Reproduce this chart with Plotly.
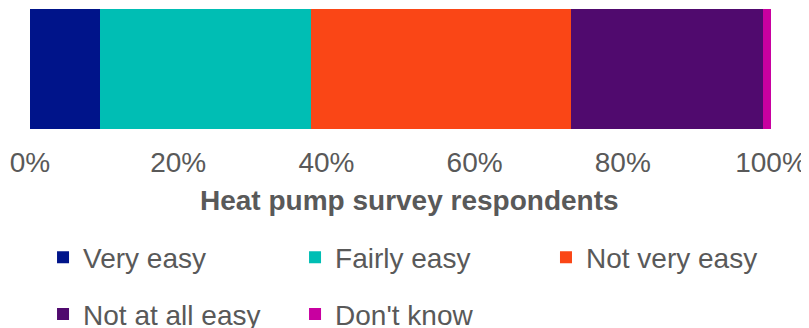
import plotly.graph_objects as go

categories = ["Heat pump survey respondents"]
answers = ["Very easy", "Fairly easy", "Not very easy", "Not at all easy", "Don't know"]
shares = [9.4, 28.5, 35.1, 25.9, 1.1]
colours = ["#00148A", "#00BEB4", "#FA4616", "#500A6E", "#C800A0"]
x_ticks = [0, 20, 40, 60, 80, 100]
x_tick_labels = ["0%", "20%", "40%", "60%", "80%", "100%"]

# legend grid: 3 columns, 2 rows (container coords)
leg_x = [0.0433, 0.3548, 0.665, 0.0433, 0.3548]
leg_y = [0.2393, 0.2393, 0.2393, 0.066, 0.066]

font_grey = "#595959"

fig = go.Figure()
legends = {}
for i, (name, val, col) in enumerate(zip(answers, shares, colours)):
    lid = "legend" if i == 0 else "legend%d" % (i + 1)
    fig.add_trace(go.Bar(
        x=[val], y=categories, name=name, orientation="h",
        marker=dict(color=col, line=dict(width=0)),
        legend=lid, hoverinfo="name+x"
    ))
    legends[lid] = dict(
        orientation="h", xref="container", yref="container",
        xanchor="left", yanchor="middle", x=leg_x[i], y=leg_y[i],
        font=dict(size=28, color=font_grey),
        bgcolor="rgba(0,0,0,0)", itemclick=False
    )

fig.update_layout(
    barmode="stack", bargap=0,
    width=809, height=328,
    margin=dict(l=22, r=46, t=1, b=207, autoexpand=False),
    plot_bgcolor="white", paper_bgcolor="white",
    font=dict(family="Arial, Liberation Sans, sans-serif", size=28, color=font_grey),
    showlegend=True,
    xaxis=dict(
        range=[0, 100], tickvals=x_ticks, ticktext=x_tick_labels,
        showgrid=False, zeroline=False, showline=False, automargin=False,
        ticks="", ticklabelstandoff=14,
        tickfont=dict(size=28, color=font_grey),
    ),
    yaxis=dict(visible=False, range=[-0.5, 0.5], automargin=False),
    **legends
)

# axis title, sits a little right of the plot centre like the original
fig.add_annotation(
    text="<b>Heat pump survey respondents</b>", showarrow=False,
    xref="paper", yref="paper", x=0.5115, y=-0.596,
    xanchor="center", yanchor="middle",
    font=dict(size=28, color=font_grey)
)

fig.write_html("out.html")
